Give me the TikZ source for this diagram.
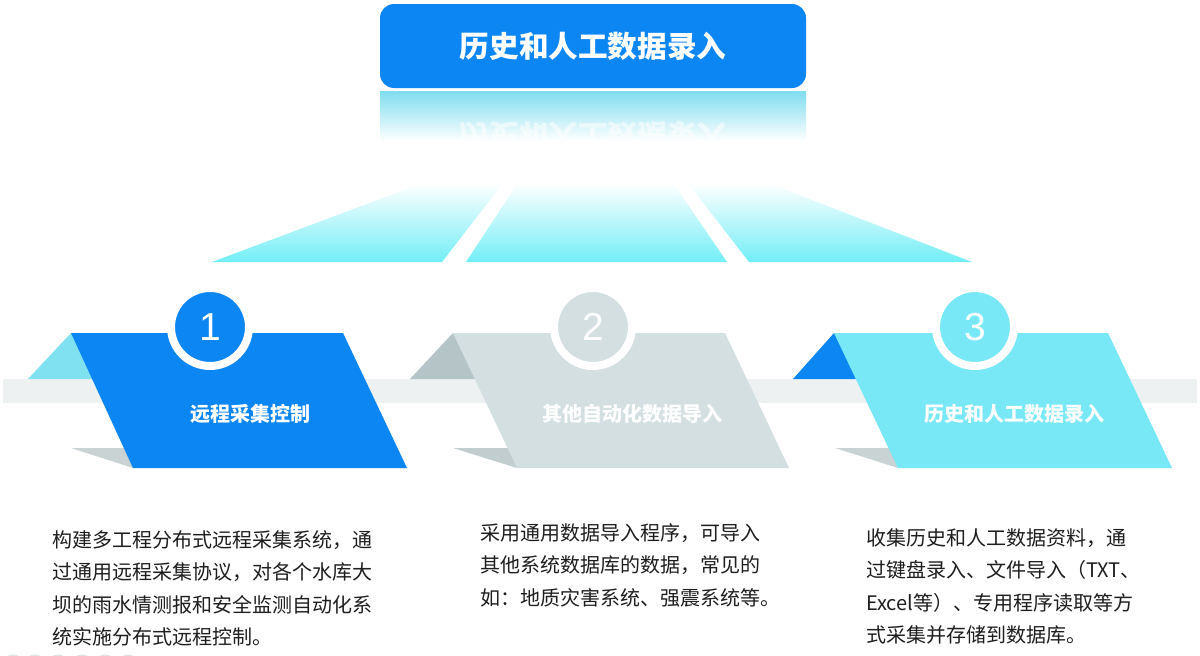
\documentclass[tikz,border=0pt]{standalone}
\usepackage{fontspec}
\setmainfont{Noto Sans CJK SC}
\newfontfamily\numfont{Liberation Sans}
\definecolor{mainblue}{HTML}{0C86F2}
\definecolor{cyanT}{HTML}{72EEF6}
\definecolor{cyanP}{HTML}{79E8F6}
\definecolor{cyanTri}{HTML}{80E2F0}
\definecolor{grayP}{HTML}{D3DFE1}
\definecolor{grayTri}{HTML}{B5C4C6}
\definecolor{shadowc}{HTML}{C9D3D3}
\definecolor{bandc}{HTML}{EDF1F1}
\definecolor{reflc}{HTML}{7FDDEF}
\definecolor{bodyc}{HTML}{1E1E1E}
\definecolor{dotc}{HTML}{DDE3E3}
\tikzset{
  topbox/.style={fill=mainblue, rounded corners=14pt, minimum width=426pt, minimum height=84pt, inner sep=0pt, text=white, font=\fontsize{29.6pt}{32pt}\selectfont\bfseries},
  numcircle/.style={circle, minimum size=78pt, inner sep=0pt, draw=white, line width=8pt, text=white, font=\numfont\fontsize{39pt}{40pt}\selectfont},
  panellabel/.style={text=white, inner sep=0pt, font=\fontsize{20pt}{22pt}\selectfont\bfseries},
  bodyline/.style={anchor=base west, inner sep=0pt, text=bodyc, font=\fontsize{20pt}{24pt}\selectfont},
  trap/.style={top color=white, middle color=cyanT, bottom color=cyanT}
}
\begin{document}
\begin{tikzpicture}[x=1pt,y=-1pt]
\useasboundingbox (0,0) rectangle (1200,656);
\fill[white] (0,0) rectangle (1200,656);

% title and reflection
\begin{scope}
  \clip (380,91) rectangle (806,141);
  \shade[top color=reflc, bottom color=white] (380,91) rectangle (806,141);
  \node[yscale=-1, text=white, opacity=0.55, inner sep=0pt, font=\fontsize{29.6pt}{32pt}\selectfont\bfseries] (refl) at (593,136) {历史和人工数据录入};
\end{scope}
\node[topbox] (title) at (593,46) {历史和人工数据录入};

% trapezoids
\shade[trap] (212,262) -- (442,262) -- (503,183) -- (423,183) -- cycle;
\shade[trap] (466,262) -- (727,262) -- (673,183) -- (518,183) -- cycle;
\shade[trap] (749,262) -- (972,262) -- (768,183) -- (688,183) -- cycle;

% band
\fill[bandc] (3,379) rectangle (1197,403);

% fold triangles
\fill[cyanTri] (28,379) -- (71,333) -- (100,379) -- cycle;
\fill[grayTri] (410,379) -- (453,333) -- (482,379) -- cycle;
\fill[mainblue] (793,379) -- (834,333) -- (862,379) -- cycle;

% shadows
\fill[shadowc] (71,448) -- (140,448) -- (133,468) -- cycle;
\fill[grayP!92!black] (453,448) -- (520,448) -- (517,468) -- cycle;
\fill[shadowc] (835,448) -- (905,448) -- (898,468) -- cycle;

% panels
\fill[mainblue] (71,333) -- (343,333) -- (407,468) -- (133,468) -- cycle;
\fill[grayP] (453,333) -- (725,333) -- (789,468) -- (517,468) -- cycle;
\fill[cyanP] (834,333) -- (1108,333) -- (1172,468) -- (898,468) -- cycle;

% number circles
\node[numcircle, fill=mainblue] (n1) at (210,327) {1};
\node[numcircle, fill=grayP] (n2) at (593,327) {2};
\node[numcircle, fill=cyanP] (n3) at (975,327) {3};

% panel labels
\node[panellabel] (l1) at (250,414) {远程采集控制};
\node[panellabel] (l2) at (632,414) {其他自动化数据导入};
\node[panellabel] (l3) at (1014,414) {历史和人工数据录入};

% body text
\node[bodyline] (a1) at (52,547.5) {构建多工程分布式远程采集系统，通};
\node[bodyline] (a2) at (52,579.8) {过通用远程采集协议，对各个水库大};
\node[bodyline] (a3) at (52,612.1) {坝的雨水情测报和安全监测自动化系};
\node[bodyline] (a4) at (52,644.4) {统实施分布式远程控制。};

\node[bodyline] (b1) at (480,540.5) {采用通用数据导入程序，可导入};
\node[bodyline] (b2) at (480,572.8) {其他系统数据库的数据，常见的};
\node[bodyline] (b3) at (480,605.1) {如：地质灾害系统、强震系统等。};

\node[bodyline] (c1) at (866,545.5) {收集历史和人工数据资料，通};
\node[bodyline] (c2) at (866,577.8) {过键盘录入、文件导入（TXT、};
\node[bodyline] (c3) at (866,610.1) {Excel等）、专用程序读取等方};
\node[bodyline] (c4) at (866,642.4) {式采集并存储到数据库。};

% cropped decorative circles at bottom left
\begin{scope}
  \clip (0,0) rectangle (1200,656);
  \foreach \cx in {13,35,58,82,105,128} \draw[dotc, line width=1.2pt] (\cx,664) circle (9pt);
\end{scope}
\end{tikzpicture}
\end{document}
